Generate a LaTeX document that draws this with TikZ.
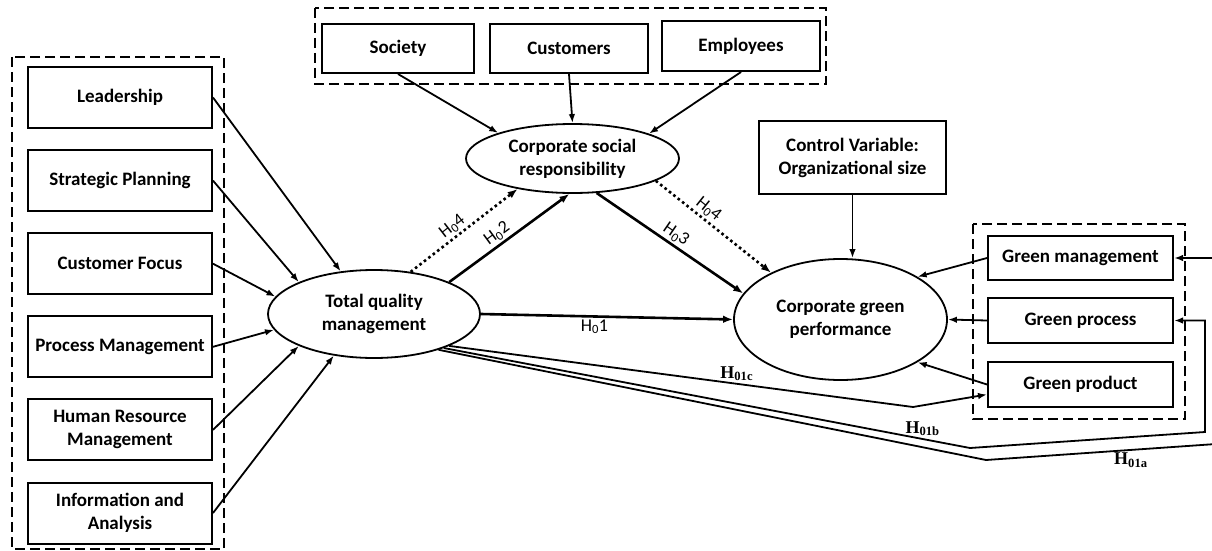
\documentclass[tikz,border=0pt]{standalone}
\usepackage{fontspec}
\setmainfont{Carlito}
\newfontfamily\hfont{Liberation Serif}
\usetikzlibrary{arrows.meta,shapes.geometric}
\newcommand{\Hnull}{H\textsubscript{0}}
\begin{document}
\begin{tikzpicture}[x=1pt, y=-1pt,
    factor/.style={draw, line width=2pt, minimum width=184pt, minimum height=61pt, align=center, inner sep=2pt,
      font=\fontsize{19}{23}\selectfont\bfseries},
    construct/.style={draw, ellipse, line width=1.8pt, inner sep=0pt, align=center,
      font=\fontsize{19}{23}\selectfont\bfseries},
    group/.style={draw, line width=2pt, dash pattern=on 10pt off 5pt},
    link/.style={line width=1.8pt, -{Latex[length=9pt,width=6.5pt]}},
    hyp/.style={line width=2.6pt, -{Latex[length=10pt,width=7.5pt]}},
    hypdot/.style={hyp, dash pattern=on 2.6pt off 3pt},
    hlabel/.style={font=\fontsize{18}{20}\selectfont, inner sep=2pt},
    hsub/.style={font=\hfont\bfseries\fontsize{18}{20}\selectfont, inner sep=2pt}]
  \useasboundingbox (0,0) rectangle (1212,551);
  \draw[group] (12,57) rectangle (224,549);
  \draw[group] (315,8) rectangle (826,84);
  \draw[group] (973,224) rectangle (1185,419);
  \foreach \n/\t [count=\i from 0] in {lead/Leadership, plan/Strategic Planning, focus/Customer Focus,
      proc/Process Management, hrm/Human Resource\\Management, info/Information and\\Analysis}
    \node[factor] (\n) at (120,97.5+83.1*\i) {\t};
  \node[factor, minimum width=152pt, minimum height=49pt] (soc) at (398,48.5) {Society};
  \node[factor, minimum width=158pt, minimum height=49pt] (cust) at (569,48.5) {Customers};
  \node[factor, minimum width=158pt, minimum height=50pt] (emp) at (741,46) {Employees};
  \node[factor, minimum width=187pt, minimum height=73pt] (ctrl) at (852.5,157.5) {Control Variable:\\Organizational size};
  \node[factor, minimum width=185pt, minimum height=44pt] (gman) at (1080.5,258) {Green management};
  \node[factor, minimum width=185pt, minimum height=45pt] (gproc) at (1080.5,320.5) {Green process};
  \node[factor, minimum width=185pt, minimum height=45pt] (gprod) at (1080.5,384.5) {Green product};
  \node[construct, minimum width=212pt, minimum height=88pt] (tqm) at (374,314) {Total quality\\management};
  \node[construct, minimum width=213pt, minimum height=69pt] (csr) at (572.5,158.5) {Corporate social\\responsibility};
  \node[construct, minimum width=213pt, minimum height=121pt] (cgp) at (840.5,319.5) {Corporate green\\performance};
  \foreach \n/\a in {lead/128, plan/157, focus/170, proc/189, hrm/203, info/226}
    \draw[link] (\n.east) -- (tqm.\a);
  \foreach \n/\a in {soc/161, cust/90, emp/18.5}
    \draw[link] (\n.south) -- (csr.\a);
  \draw[link] (ctrl.south) -- (ctrl.south |- cgp.north);
  \foreach \n/\a in {gman/29, gproc/0, gprod/-29}
    \draw[link] (\n.west) -- (cgp.\a);
  \draw[hyp] (tqm.east) -- node[hlabel, below, pos=0.45] {\Hnull1} (cgp.west);
  \draw[hyp] (tqm.23) -- node[hlabel, above, sloped, pos=0.45] {\Hnull2} (csr.-95);
  \draw[hypdot] (tqm.49) -- node[hlabel, above, sloped, pos=0.45] {\Hnull4} (csr.209);
  \draw[hyp] (csr.-55) -- node[hlabel, above, sloped] {\Hnull3} (cgp.165);
  \draw[hypdot] (csr.-15) -- node[hlabel, above, sloped, pos=0.4] {\Hnull4} (cgp.146);
  \coordinate (c1) at (913,407);
  \coordinate (b1) at (970,448);
  \coordinate (b2) at (1205,432);
  \coordinate (a1) at (986,460);
  \coordinate (a2) at (1216,444);
  \draw[link] (tqm.-23) -- node[hsub, above, pos=0.62] {H\textsubscript{01c}} (c1) -- ([yshift=-10pt]gprod.west);
  \draw[link] (tqm.-26) -- node[hsub, above, pos=0.91] {H\textsubscript{01b}} (b1) -- (b2) |- (gproc.east);
  \draw[link] (tqm.-29) -- (a1) -- node[hsub, below, pos=0.63] {H\textsubscript{01a}} (a2) |- (gman.east);
\end{tikzpicture}
\end{document}
